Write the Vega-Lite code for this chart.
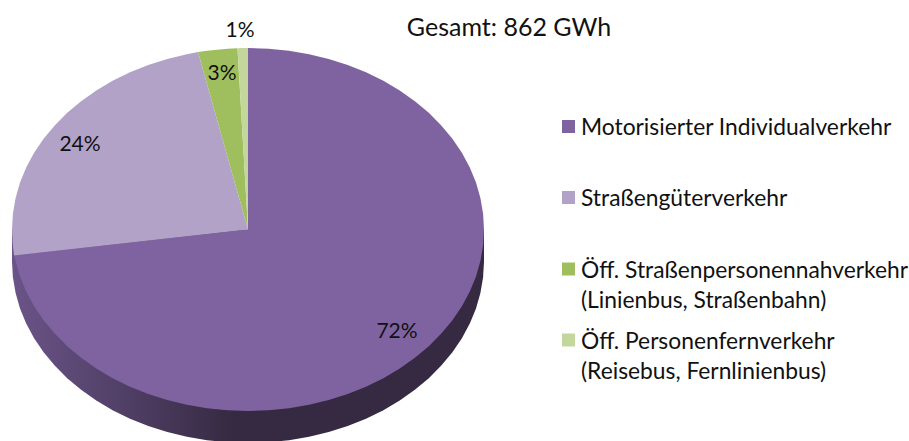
{"$schema":"https://vega.github.io/schema/vega-lite/v6.json","width":909,"height":441,"padding":0,"autosize":{"type":"fit","contains":"padding"},"background":"white","view":{"stroke":null},"config":{"text":{"font":"Lato"}},
"datasets":{
"wall":[[484,229.5],[484,261.5],[483.1,277.3],[480.4,293],[476,308.5],[469.8,323.6],[461.9,338.2],[452.4,352.3],[441.3,365.6],[428.8,378.2],[414.9,389.8],[399.7,400.5],[383.4,410.2],[366,418.7],[347.7,426],[328.7,432.1],[309.1,436.8],[289,440.2],[268.6,442.3],[248,443],[227.4,442.3],[207,440.2],[186.9,436.8],[167.3,432.1],[148.3,426],[130,418.7],[112.6,410.2],[96.3,400.5],[81.1,389.8],[67.2,378.2],[54.7,365.6],[43.6,352.3],[34.1,338.2],[26.2,323.6],[20,308.5],[15.6,293],[12.9,277.3],[12,261.5],[12,229.5]],
"slices":[
{"s":"Motorisierter Individualverkehr","p":[[248,229.5],[248,48],[268.6,48.7],[289,50.8],[309.1,54.2],[328.7,58.9],[347.7,65],[366,72.3],[383.4,80.8],[399.7,90.5],[414.9,101.2],[428.8,112.8],[441.3,125.4],[452.4,138.7],[461.9,152.8],[469.8,167.4],[476,182.5],[480.4,198],[483.1,213.7],[484,229.5],[483.1,245.3],[480.4,261],[476,276.5],[469.8,291.6],[461.9,306.2],[452.4,320.3],[441.3,333.6],[428.8,346.2],[414.9,357.8],[399.7,368.5],[383.4,378.2],[366,386.7],[347.7,394],[328.7,400.1],[309.1,404.8],[289,408.2],[268.6,410.3],[248,411],[227.4,410.3],[207,408.2],[186.9,404.8],[167.3,400.1],[148.3,394],[130,386.7],[112.6,378.2],[96.3,368.5],[81.1,357.8],[67.2,346.2],[54.7,333.6],[43.6,320.3],[34.1,306.2],[26.2,291.6],[20,276.5],[14,255.5],[248,229.5]]},
{"s":"Straßengüterverkehr","p":[[248,229.5],[14,255.5],[12.9,245.3],[12,229.5],[12.9,213.7],[15.6,198],[20,182.5],[26.2,167.4],[34.1,152.8],[43.6,138.7],[54.7,125.4],[67.2,112.8],[81.1,101.2],[96.3,90.5],[112.6,80.8],[130,72.3],[148.3,65],[167.3,58.9],[186.9,54.2],[198,52.1],[248,229.5]]},
{"s":"Öff. Straßenpersonennahverkehr","p":[[248,229.5],[198,52.1],[207,50.8],[227.4,48.7],[237.5,48.2],[248,229.5]]},
{"s":"Öff. Personenfernverkehr","p":[[248,229.5],[237.5,48.2],[242.7,48.1],[248,48],[248,229.5]]}
],
"labels":[
{"t":"72%","x":397,"y":332},{"t":"24%","x":80,"y":144.5},{"t":"3%","x":222,"y":74},{"t":"1%","x":240,"y":31}
],
"keys":[
{"s":"Motorisierter Individualverkehr","x":568.5,"y":126.5},{"s":"Straßengüterverkehr","x":568.5,"y":197.5},{"s":"Öff. Straßenpersonennahverkehr","x":568.5,"y":269},{"s":"Öff. Personenfernverkehr","x":568.5,"y":340}
],
"lines":[
{"t":"Motorisierter Individualverkehr","x":581,"y":128},{"t":"Straßengüterverkehr","x":581,"y":199},{"t":"Öff. Straßenpersonennahverkehr","x":581,"y":271},{"t":"(Linienbus, Straßenbahn)","x":581,"y":300.5},{"t":"Öff. Personenfernverkehr","x":581,"y":342},{"t":"(Reisebus, Fernlinienbus)","x":581,"y":371.5}
]},
"encoding":{"x":{"field":"x","type":"quantitative","scale":{"domain":[0,909],"nice":false,"zero":false},"axis":null},"y":{"field":"y","type":"quantitative","scale":{"domain":[441,0],"nice":false,"zero":false},"axis":null}},
"layer":[
{"data":{"name":"wall"},"transform":[{"calculate":"datum[0]","as":"x"},{"calculate":"datum[1]","as":"y"},{"window":[{"op":"row_number","as":"i"}]}],
"mark":{"type":"line","clip":true,"strokeWidth":0,"fill":{"gradient":"linear","x1":0,"y1":0,"x2":1,"y2":0,"stops":[{"offset":0,"color":"#6b5488"},{"offset":0.25,"color":"#4f3e64"},{"offset":0.47,"color":"#352a41"},{"offset":1,"color":"#352a41"}]}},
"encoding":{"order":{"field":"i","type":"quantitative"}}},
{"data":{"name":"slices"},"transform":[{"flatten":["p"]},{"window":[{"op":"row_number","as":"i"}]},{"calculate":"datum.p[0]","as":"x"},{"calculate":"datum.p[1]","as":"y"}],
"mark":{"type":"line","strokeWidth":0},
"encoding":{"order":{"field":"i","type":"quantitative"},"detail":{"field":"s"},"fill":{"field":"s","type":"nominal","legend":null,"scale":{"domain":["Motorisierter Individualverkehr","Straßengüterverkehr","Öff. Straßenpersonennahverkehr","Öff. Personenfernverkehr"],"range":["#7f63a1","#b3a2c7","#9fbe5e","#c3d69b"]}}}},
{"data":{"name":"labels"},"mark":{"type":"text","fontSize":21,"color":"#111","align":"center","baseline":"middle"},
"encoding":{"text":{"field":"t"}}},
{"data":{"values":[{"t":"Gesamt: 862 GWh","x":509,"y":27.5}]},"mark":{"type":"text","fontSize":25,"color":"#111","align":"center","baseline":"middle"},
"encoding":{"text":{"field":"t"}}},
{"data":{"name":"keys"},"mark":{"type":"point","shape":"square","filled":true,"size":169,"opacity":1},
"encoding":{"fill":{"field":"s","type":"nominal","legend":null}}},
{"data":{"name":"lines"},"mark":{"type":"text","fontSize":22.8,"color":"#111","align":"left","baseline":"middle"},
"encoding":{"text":{"field":"t"}}}
]}
